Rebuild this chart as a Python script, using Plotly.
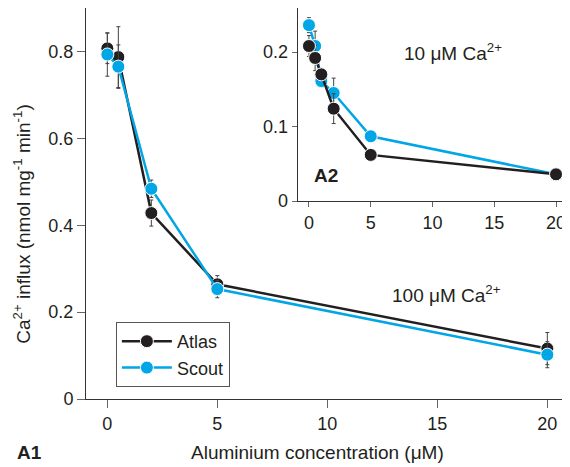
import plotly.graph_objects as go

# Main panel (A1): 100 uM Ca2+
al_main = [0, 0.5, 2, 5, 20]
atlas_main = [0.807, 0.787, 0.428, 0.264, 0.116]
atlas_main_err = [0.035, 0.07, 0.03, 0.02, 0.037]
scout_main = [0.793, 0.765, 0.484, 0.253, 0.102]
scout_main_err = [0.05, 0.05, 0.02, 0.02, 0.03]

# Inset panel (A2): 10 uM Ca2+
al_inset = [0, 0.5, 1, 2, 5, 20]
atlas_inset = [0.208, 0.192, 0.170, 0.124, 0.062, 0.036]
atlas_inset_err = [0.014, 0.017, 0.008, 0.02, 0.004, 0.003]
scout_inset = [0.236, 0.208, 0.161, 0.145, 0.087, 0.036]
scout_inset_err = [0.01, 0.02, 0.008, 0.02, 0.004, 0.003]

BLACK = '#231f20'
BLUE = '#00a6e6'
FONT = 'Liberation Sans, Arial, sans-serif'

fig = go.Figure()


def add_series(x, y, err, color, name, xa, ya, legend):
    fig.add_trace(go.Scatter(
        x=x, y=y, name=name, mode='lines+markers',
        line=dict(color=color, width=2.5),
        marker=dict(color=color, size=13, line=dict(color='white', width=1)),
        error_y=dict(type='data', array=err, color='#444', thickness=1, width=2),
        xaxis=xa, yaxis=ya, showlegend=legend,
    ))


add_series(al_main, atlas_main, atlas_main_err, BLACK, 'Atlas', 'x', 'y', True)
add_series(al_main, scout_main, scout_main_err, BLUE, 'Scout', 'x', 'y', True)
add_series(al_inset, scout_inset, scout_inset_err, BLUE, 'Scout', 'x2', 'y2', False)
add_series(al_inset, atlas_inset, atlas_inset_err, BLACK, 'Atlas', 'x2', 'y2', False)

axis_common = dict(showline=True, linecolor='#333', linewidth=1, ticks='outside',
                   tickcolor='#666', showgrid=False, zeroline=False, automargin=False,
                   tickfont=dict(size=18, color='#231f20'))

# page body adds an 8px margin, so the figure is 8px smaller than the window
fig.update_layout(
    width=562, height=459,
    margin=dict(l=78, r=2, t=0, b=68),
    plot_bgcolor='white', paper_bgcolor='white',
    font=dict(family=FONT, size=18, color='#231f20'),
    xaxis=dict(range=[-0.97, 20.94], tickvals=[0, 5, 10, 15, 20], ticklen=8,
               **axis_common),
    yaxis=dict(range=[0, 0.9], tickvals=[0, 0.2, 0.4, 0.6, 0.8],
               ticktext=['0', '0.2', '0.4', '0.6', '0.8'], ticklen=8, **axis_common),
    xaxis2=dict(domain=[0.439, 1], anchor='y2', range=[-0.92, 20.97],
                tickvals=[0, 5, 10, 15, 20], ticklen=5, **axis_common),
    yaxis2=dict(domain=[0.506, 1], anchor='x2', range=[0, 0.259],
                tickvals=[0, 0.1, 0.2], ticktext=['0', '0.1', '0.2'], ticklen=5,
                **axis_common),
    legend=dict(x=0.062, y=0.197, xanchor='left', yanchor='top',
                bordercolor='#555', borderwidth=1, bgcolor='white',
                font=dict(size=18), itemwidth=50, tracegroupgap=0),
    showlegend=True,
)

annotations = [
    dict(text='Ca<sup>2+</sup> influx (nmol mg<sup>-1</sup> min<sup>-1</sup>)',
         xref='paper', yref='paper', x=-0.133, y=0.448, textangle=-90,
         xanchor='center', yanchor='middle', showarrow=False, font=dict(size=19)),
    dict(text='Aluminium concentration (μM)', xref='paper', yref='paper',
         x=0.481, y=-0.138, xanchor='center', yanchor='middle',
         showarrow=False, font=dict(size=19)),
    dict(text='<b>A1</b>', xref='paper', yref='paper', x=-0.147, y=-0.138,
         xanchor='left', yanchor='middle', showarrow=False, font=dict(size=19)),
    dict(text='<b>A2</b>', xref='x2', yref='y2', x=0.22, y=0.035,
         xanchor='left', yanchor='middle', showarrow=False, font=dict(size=19)),
    dict(text='10 μM Ca<sup>2+</sup>', xref='x2', yref='y2', x=7.5, y=0.2,
         xanchor='left', yanchor='middle', showarrow=False, font=dict(size=19)),
    dict(text='100 μM Ca<sup>2+</sup>', xref='x', yref='y', x=12.85, y=0.241,
         xanchor='left', yanchor='middle', showarrow=False, font=dict(size=19)),
]
fig.update_layout(annotations=annotations)

fig.write_html('out.html')
